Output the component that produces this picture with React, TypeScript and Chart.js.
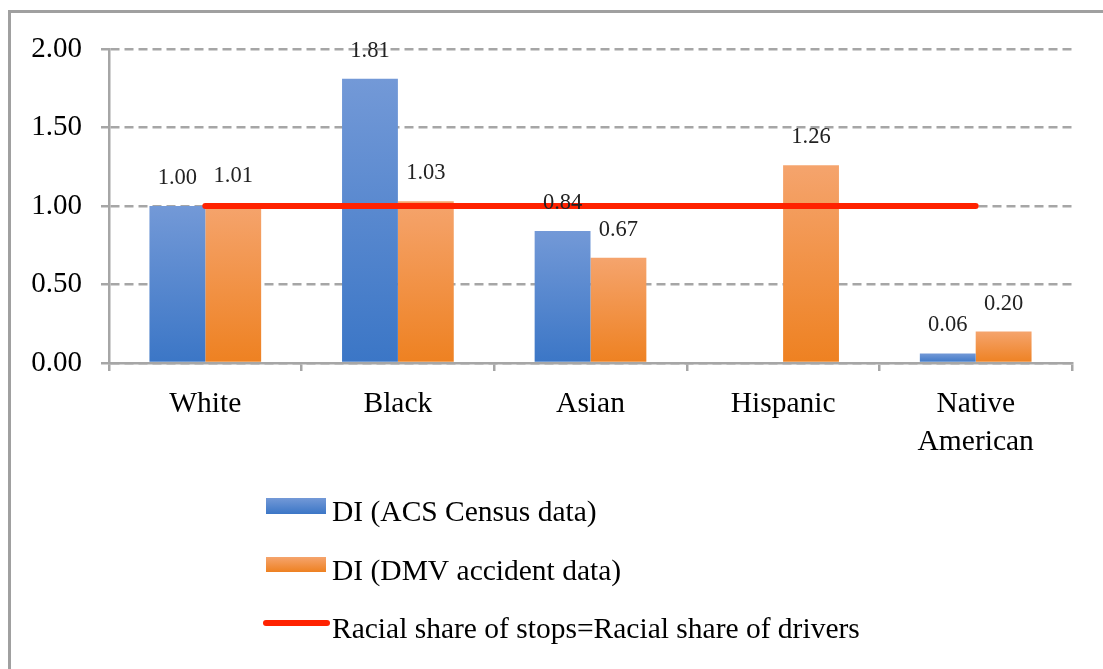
import React, { useEffect, useRef } from 'react';
import { Chart, registerables } from 'chart.js';

Chart.register(...registerables);

const categories: (string | string[])[] = ['White', 'Black', 'Asian', 'Hispanic', ['Native', 'American']];
const acsValues: (number | null)[] = [1.0, 1.81, 0.84, null, 0.06];
const dmvValues: (number | null)[] = [1.01, 1.03, 0.67, 1.26, 0.2];
const parityValues: number[] = [1, 1, 1, 1, 1];
const seriesLabels = [
  'DI (ACS Census data)',
  'DI (DMV accident data)',
  'Racial share of stops=Racial share of drivers',
];
const yMin = 0;
const yMax = 2;
const yStep = 0.5;

const FONT = "'Liberation Serif', 'Times New Roman', serif";
const GRAY = '#a6a6a6';
const BLUE_TOP = '#7399d7';
const BLUE_BOT = '#3b76c6';
const ORANGE_TOP = '#f5a46d';
const ORANGE_BOT = '#ee8121';
const RED = '#ff2200';

function barGradient(top: string, bottom: string) {
  return (c: any) => {
    const chart = c.chart;
    const y = chart.scales && chart.scales.y;
    const v = c.raw;
    if (!y || v == null || c.type !== 'data') return bottom;
    const yTop = y.getPixelForValue(v);
    const yBot = y.getPixelForValue(0);
    if (!isFinite(yTop) || yBot - yTop < 1) return bottom;
    const g = chart.ctx.createLinearGradient(0, yTop, 0, yBot);
    g.addColorStop(0, top);
    g.addColorStop(1, bottom);
    return g;
  };
}

const framePlugin = {
  id: 'frame',
  beforeDraw(chart: any) {
    const ctx = chart.ctx;
    ctx.save();
    ctx.fillStyle = '#ffffff';
    ctx.fillRect(0, 0, chart.width, chart.height);
    ctx.strokeStyle = '#a0a0a0';
    ctx.lineWidth = 3;
    ctx.strokeRect(9.5, 11.5, chart.width + 20, chart.height + 20);
    ctx.restore();
  },
};

const dataLabelPlugin = {
  id: 'dataLabels',
  afterDatasetsDraw(chart: any) {
    const ctx = chart.ctx;
    ctx.save();
    ctx.font = `22.5px ${FONT}`;
    ctx.fillStyle = '#222222';
    ctx.textAlign = 'center';
    ctx.textBaseline = 'middle';
    [0, 1].forEach((di) => {
      const meta = chart.getDatasetMeta(di);
      const data = chart.data.datasets[di].data;
      meta.data.forEach((el: any, i: number) => {
        const v = data[i];
        if (v == null) return;
        ctx.fillText(Number(v).toFixed(2), el.x, el.y - 28);
      });
    });
    ctx.restore();
  },
};

const legendPlugin = {
  id: 'customLegend',
  afterDraw(chart: any) {
    const ctx = chart.ctx;
    const ds = chart.data.datasets;
    ctx.save();
    ctx.font = `29.5px ${FONT}`;
    ctx.fillStyle = '#000000';
    ctx.textAlign = 'left';
    ctx.textBaseline = 'alphabetic';
    const sx = 266;
    const sw = 60;
    const tx = 332;
    // blue swatch
    let g = ctx.createLinearGradient(0, 498, 0, 514);
    g.addColorStop(0, BLUE_TOP);
    g.addColorStop(1, BLUE_BOT);
    ctx.fillStyle = g;
    ctx.fillRect(sx, 498, sw, 16);
    ctx.fillStyle = '#000000';
    ctx.fillText(ds[0].label, tx, 521);
    // orange swatch
    g = ctx.createLinearGradient(0, 557, 0, 572);
    g.addColorStop(0, ORANGE_TOP);
    g.addColorStop(1, ORANGE_BOT);
    ctx.fillStyle = g;
    ctx.fillRect(sx, 557, sw, 15);
    ctx.fillStyle = '#000000';
    ctx.fillText(ds[1].label, tx, 580);
    // red line swatch
    ctx.strokeStyle = RED;
    ctx.lineWidth = 6;
    ctx.lineCap = 'round';
    ctx.beginPath();
    ctx.moveTo(sx, 623);
    ctx.lineTo(sx + sw + 1, 623);
    ctx.stroke();
    ctx.fillText(ds[2].label, tx, 638);
    ctx.restore();
  },
};

export default function App() {
  const canvasRef = useRef<HTMLCanvasElement | null>(null);

  useEffect(() => {
    const canvas = canvasRef.current;
    if (!canvas) return;
    const chart = new Chart(canvas, {
      type: 'bar',
      data: {
        labels: categories as any,
        datasets: [
          {
            type: 'bar',
            label: seriesLabels[0],
            data: acsValues as any,
            backgroundColor: barGradient(BLUE_TOP, BLUE_BOT) as any,
            borderWidth: 0,
            categoryPercentage: 0.58,
            barPercentage: 1,
            order: 1,
          },
          {
            type: 'bar',
            label: seriesLabels[1],
            data: dmvValues as any,
            backgroundColor: barGradient(ORANGE_TOP, ORANGE_BOT) as any,
            borderWidth: 0,
            categoryPercentage: 0.58,
            barPercentage: 1,
            order: 1,
          },
          {
            type: 'line',
            label: seriesLabels[2],
            data: parityValues,
            borderColor: RED,
            backgroundColor: RED,
            borderWidth: 6,
            borderCapStyle: 'round',
            pointRadius: 0,
            pointHoverRadius: 0,
            fill: false,
            order: 0,
          } as any,
        ],
      },
      options: {
        responsive: false,
        animation: false,
        events: [],
        layout: { padding: { left: 0, top: 49, right: 31, bottom: 0 } },
        plugins: {
          legend: { display: false },
          title: { display: false },
          tooltip: { enabled: false },
        },
        scales: {
          x: {
            afterFit: (s: any) => {
              s.height = 306;
            },
            grid: {
              offset: true,
              drawOnChartArea: false,
              drawTicks: true,
              tickLength: 8,
              color: GRAY,
              lineWidth: 2.5,
            },
            border: { display: true, color: GRAY, width: 2.5 },
            ticks: {
              color: '#000000',
              padding: 14,
              maxRotation: 0,
              autoSkip: false,
              font: { family: FONT, size: 29.5, lineHeight: 1.29 },
            },
          },
          y: {
            min: yMin,
            max: yMax,
            afterFit: (s: any) => {
              s.width = 109;
            },
            grid: {
              color: GRAY,
              lineWidth: 2.5,
              drawTicks: true,
              tickLength: 8,
              tickColor: GRAY,
              tickWidth: 2.5,
              tickBorderDash: [],
            } as any,
            border: { display: true, color: GRAY, width: 2.5, dash: [9, 5] },
            ticks: {
              stepSize: yStep,
              color: '#000000',
              padding: 19,
              font: { family: FONT, size: 29 },
              callback: (v: any) => Number(v).toFixed(2),
            },
          },
        },
      },
      plugins: [framePlugin, dataLabelPlugin, legendPlugin],
    });
    return () => chart.destroy();
  }, []);

  return (
    <div style={{ position: 'fixed', left: 0, top: 0, width: 1103, height: 669, background: '#fff' }}>
      <canvas ref={canvasRef} width={1103} height={669} style={{ display: 'block', width: 1103, height: 669 }} />
    </div>
  );
}
